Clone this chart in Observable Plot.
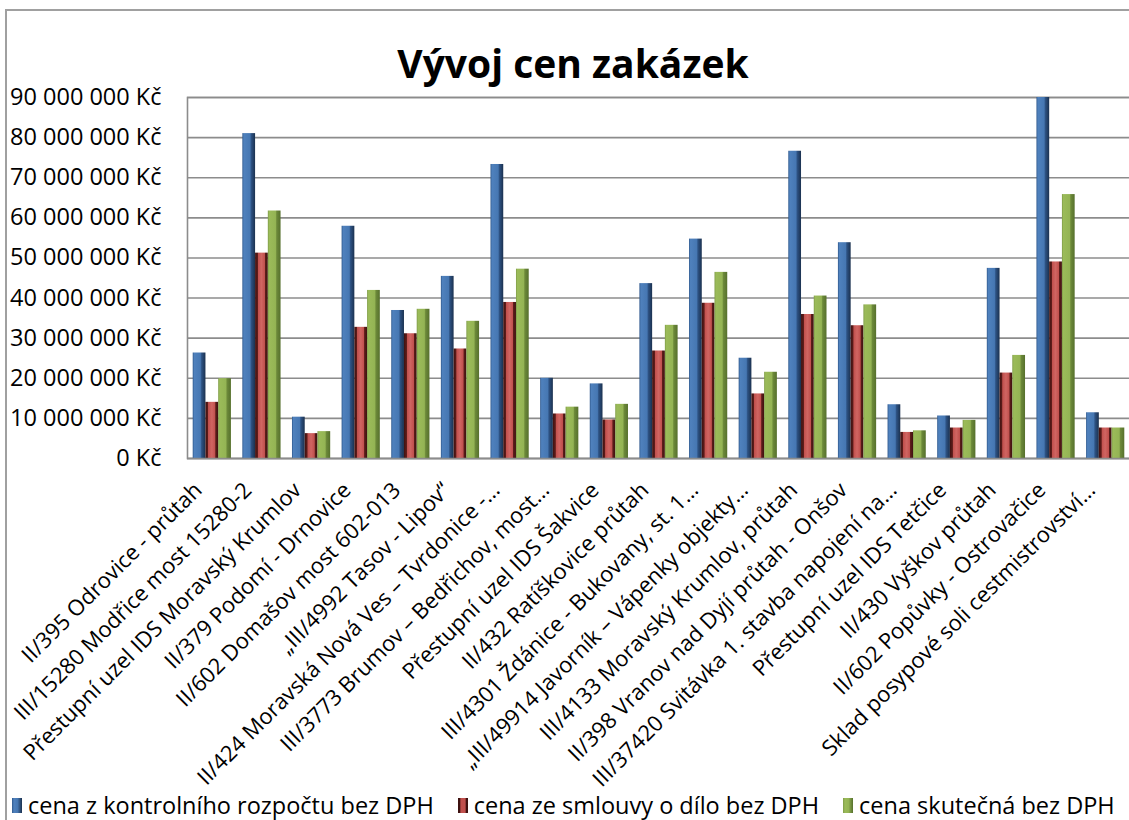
<!DOCTYPE html>
<html>
<head>
<meta charset="utf-8">
<script src="https://cdn.jsdelivr.net/npm/d3@7"></script>
<script src="https://cdn.jsdelivr.net/npm/@observablehq/plot@0.6"></script>
<style>
  html, body { margin: 0; padding: 0; background: #fff; overflow: hidden; }
  #wrap { position: relative; width: 1129px; height: 820px; overflow: hidden; font-family: "Open Sans", sans-serif; }
  #border { position: absolute; left: 5px; top: 9px; width: 1140px; height: 830px; border: 2px solid #a0a0a0; box-sizing: border-box; }
  #title { position: absolute; left: 6px; width: 1134px; top: 36px; text-align: center; font-weight: 700; font-size: 39px; color: #000; line-height: normal; }
  #chart { position: absolute; left: 0; top: 70px; width: 1140px; }
  #legend { position: absolute; left: 12px; top: 792px; display: flex; gap: 24px; font-size: 23.5px; line-height: 27px; color: #000; white-space: nowrap; }
  .item { display: flex; align-items: center; gap: 6px; }
  .sw { width: 10px; height: 15px; display: inline-block; }
</style>
</head>
<body>
<svg width="0" height="0" style="position:absolute">
  <defs>
    <linearGradient id="gBlue" x1="0" x2="1" y1="0" y2="0">
      <stop offset="0" stop-color="#30598d"/>
      <stop offset="0.12" stop-color="#4f81bd"/>
      <stop offset="0.6" stop-color="#4677b2"/>
      <stop offset="0.7" stop-color="#2d5283"/>
      <stop offset="1" stop-color="#1b314f"/>
    </linearGradient>
    <linearGradient id="gRed" x1="0" x2="1" y1="0" y2="0">
      <stop offset="0" stop-color="#3e1110"/>
      <stop offset="0.2" stop-color="#5e1d1b"/>
      <stop offset="0.24" stop-color="#c0504d"/>
      <stop offset="0.5" stop-color="#d06562"/>
      <stop offset="0.76" stop-color="#c0504d"/>
      <stop offset="0.8" stop-color="#5e1d1b"/>
      <stop offset="1" stop-color="#3e1110"/>
    </linearGradient>
    <linearGradient id="gGreen" x1="0" x2="1" y1="0" y2="0">
      <stop offset="0" stop-color="#7f9c48"/>
      <stop offset="0.12" stop-color="#9bbb59"/>
      <stop offset="0.6" stop-color="#94b454"/>
      <stop offset="0.7" stop-color="#6c8939"/>
      <stop offset="1" stop-color="#56702d"/>
    </linearGradient>
  </defs>
</svg>
<div id="wrap">
  <div id="border"></div>
  <div id="title">Vývoj cen zakázek</div>
  <div id="chart"></div>
  <div id="legend"></div>
</div>
<script>
const categories = [
  "II/395 Odrovice - průtah",
  "III/15280 Modřice most 15280-2",
  "Přestupní uzel IDS Moravský Krumlov",
  "II/379 Podomí - Drnovice",
  "II/602 Domašov most 602-013",
  "„III/4992 Tasov - Lipov“",
  "II/424 Moravská Nová Ves – Tvrdonice -…",
  "III/3773 Brumov – Bedřichov, most…",
  "Přestupní uzel IDS Šakvice",
  "II/432 Ratíškovice průtah",
  "III/4301 Ždánice - Bukovany, st. 1…",
  "„III/49914 Javorník – Vápenky objekty…",
  "III/4133 Moravský Krumlov, průtah",
  "II/398 Vranov nad Dyjí průtah - Onšov",
  "III/37420 Svitávka 1. stavba napojení na…",
  "Přestupní uzel IDS Tetčice",
  "II/430 Vyškov průtah",
  "II/602 Popůvky - Ostrovačice",
  "Sklad posypové soli cestmistrovství…"
];
const seriesNames = [
  "cena z kontrolního rozpočtu bez DPH",
  "cena ze smlouvy o dílo bez DPH",
  "cena skutečná bez DPH"
];
const kontrolni = [26.3, 81.0, 10.3, 57.9, 36.9, 45.4, 73.3, 20.0, 18.6, 43.6, 54.7, 25.0, 76.6, 53.8, 13.4, 10.6, 47.4, 92.0, 11.4];
const smlouva   = [14.0, 51.2,  6.2, 32.7, 31.1, 27.3, 38.9, 11.1,  9.6, 26.8, 38.7, 16.1, 35.9, 33.1,  6.5,  7.6, 21.3, 49.0,  7.6];
const skutecna  = [19.9, 61.7,  6.7, 41.9, 37.2, 34.2, 47.2, 12.8, 13.5, 33.2, 46.4, 21.5, 40.5, 38.3,  6.9,  9.5, 25.7, 65.8,  7.6];
const yTicks = [0, 10e6, 20e6, 30e6, 40e6, 50e6, 60e6, 70e6, 80e6, 90e6];

const fills = ["url(#gBlue)", "url(#gRed)", "url(#gGreen)"];
const swatchBg = [
  "linear-gradient(90deg,#30598d,#4f81bd 20%,#4677b2 55%,#1b314f)",
  "linear-gradient(90deg,#3e1110 15%,#c0504d 30%,#c0504d 70%,#3e1110 85%)",
  "linear-gradient(90deg,#7f9c48,#9bbb59 20%,#94b454 55%,#56702d)"
];
const seriesValues = [kontrolni, smlouva, skutecna];

const W = 1133, H = 720;
const mL = 187, mR = 3, mT = 27, mB = 332;
const pInner = 0.23, pOuter = 0.115;
const n = categories.length;
const step = (W - mL - mR) / (n - pInner + 2 * pOuter);
const bw = step * (1 - pInner);

const fmt = d => (d === 0 ? "0" : d3.format(",")(d).replace(/,/g, " ")) + " Kč";

const barMarks = seriesValues.map((vals, k) => {
  const data = categories.map((c, i) => ({category: c, value: vals[i] * 1e6}));
  return Plot.barY(data, {
    x: "category", y: "value", fill: fills[k],
    insetLeft: k * bw / 3, insetRight: (2 - k) * bw / 3,
    clip: true
  });
});

const plot = Plot.plot({
  width: W, height: H,
  marginLeft: mL, marginRight: mR, marginTop: mT, marginBottom: mB,
  style: {fontFamily: "Open Sans, sans-serif", color: "#000", background: "transparent", maxWidth: "none"},
  x: {type: "band", domain: categories, paddingInner: pInner, paddingOuter: pOuter, round: false},
  y: {domain: [0, 90e6]},
  marks: [
    Plot.gridY(yTicks, {stroke: "#8c8c8c", strokeOpacity: 1, strokeWidth: 1.6}),
    Plot.frame({stroke: "#8c8c8c", strokeWidth: 1.6}),
    ...barMarks,
    Plot.ruleY([0], {stroke: "#8c8c8c", strokeWidth: 1.6}),
    Plot.axisY(yTicks, {tickFormat: fmt, tickSize: 0, tickPadding: 26, fontSize: 23.5, label: null}),
    Plot.axisX({tickRotate: -45, tickSize: 0, tickPadding: 10, dx: -14, dy: 18, fontSize: 22, label: null})
  ]
});
document.getElementById("chart").appendChild(plot);

const legend = document.getElementById("legend");
seriesNames.forEach((name, k) => {
  const it = document.createElement("div");
  it.className = "item";
  const sw = document.createElement("span");
  sw.className = "sw";
  sw.style.background = swatchBg[k];
  const tx = document.createElement("span");
  tx.textContent = name;
  it.appendChild(sw); it.appendChild(tx);
  legend.appendChild(it);
});
</script>
</body>
</html>
